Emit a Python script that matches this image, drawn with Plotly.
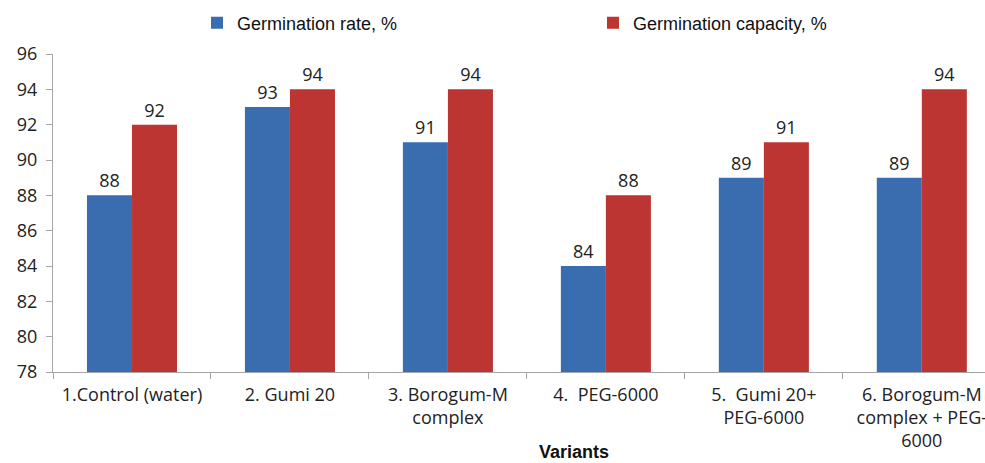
import plotly.graph_objects as go

categories = ["1.Control (water)", "2. Gumi 20", "3. Borogum-M<br>complex", "4.  PEG-6000",
              "5.  Gumi 20+<br>PEG-6000", "6. Borogum-M<br>complex + PEG-<br>6000"]
germination_rate = [88, 93, 91, 84, 89, 89]
germination_capacity = [92, 94, 94, 88, 91, 94]
y_ticks = [78, 80, 82, 84, 86, 88, 90, 92, 94, 96]

label_font = dict(family="Open Sans, sans-serif", size=18, color="#222222")
legend_font = dict(family="Arial, Liberation Sans, sans-serif", size=18, color="#111111")

fig = go.Figure()
fig.add_trace(go.Bar(
    x=categories, y=germination_rate, name="Germination rate, %",
    marker=dict(color="#3a6cb0", line=dict(width=0)),
    text=[str(v) for v in germination_rate], textposition="outside",
    textfont=label_font, cliponaxis=False, legend="legend",
))
fig.add_trace(go.Bar(
    x=categories, y=germination_capacity, name="Germination capacity, %",
    marker=dict(color="#bd3532", line=dict(width=0)),
    text=[str(v) for v in germination_capacity], textposition="outside",
    textfont=label_font, cliponaxis=False, legend="legend2",
))

plot_w = 985 - 53
plot_h = 463 - 54 - 91

fig.update_layout(
    width=985, height=463,
    margin=dict(l=53, r=0, t=54, b=91, autoexpand=False),
    paper_bgcolor="white", plot_bgcolor="white",
    barmode="group", bargap=0.43, bargroupgap=0,
    showlegend=True,
    legend=dict(orientation="h", x=197 / 985, xref="container", y=0.99, yref="container",
                xanchor="left", yanchor="top", font=legend_font, itemwidth=30),
    legend2=dict(orientation="h", x=593 / 985, xref="container", y=0.99, yref="container",
                 xanchor="left", yanchor="top", font=legend_font, itemwidth=30),
    xaxis=dict(
        range=[-0.5, 5.4], showline=True, linecolor="#a6a6a6", linewidth=1,
        ticks="outside", tickson="boundaries", ticklen=6, tickcolor="#a6a6a6",
        tickfont=dict(family="Open Sans, sans-serif", size=18, color="#222222"),
        ticklabelstandoff=6, showgrid=False, automargin=False,
    ),
    yaxis=dict(
        range=[78, 96], tickvals=y_ticks, showline=True, linecolor="#a6a6a6", linewidth=1,
        ticks="outside", ticklen=6, tickcolor="#a6a6a6",
        tickfont=dict(family="Open Sans, sans-serif", size=18, color="#222222"),
        ticklabelstandoff=5, showgrid=False, zeroline=False, automargin=False,
    ),
    annotations=[dict(text="<b>Variants</b>", x=(574 - 53) / plot_w, xref="paper",
                      y=-(452 - 372) / plot_h, yref="paper", yanchor="middle",
                      showarrow=False, font=legend_font)],
)

fig.write_html("out.html", config={"displayModeBar": False},
               post_script="document.body.style.margin='0';")
